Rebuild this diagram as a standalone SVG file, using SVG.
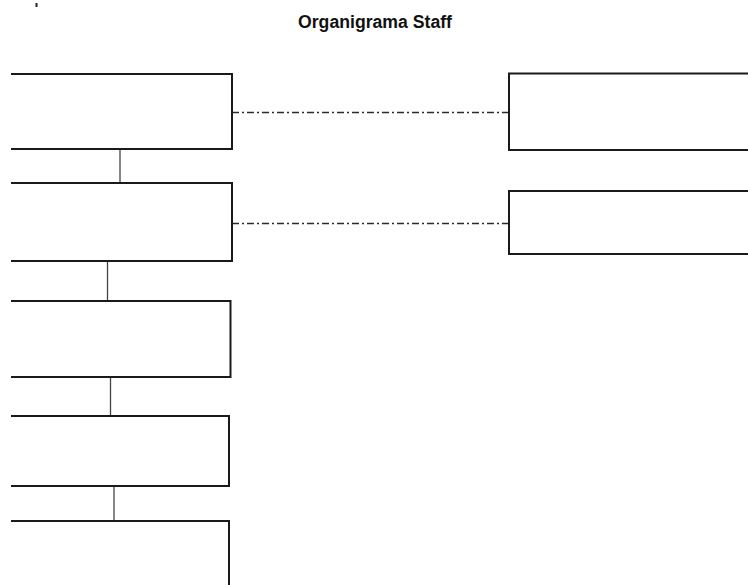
<svg xmlns="http://www.w3.org/2000/svg" width="748" height="585" viewBox="0 0 748 585">
  <style>
    .box { fill: #ffffff; stroke: #1a1a1a; stroke-width: 2; }
    .link { fill: none; stroke: #444444; stroke-width: 1.3; }
    .staff { fill: none; stroke: #2a2a2a; stroke-width: 1.7; stroke-dasharray: 7 3 2 3; }
    .title { font-family: "Liberation Sans", Arial, sans-serif; font-weight: bold; font-size: 18px; fill: #111111; }
  </style>
  <rect width="748" height="585" fill="#ffffff"/>

  <!-- small mark at top left -->
  <line x1="36.5" y1="3" x2="36.5" y2="7" stroke="#222222" stroke-width="2"/>

  <text class="title" x="375" y="28" text-anchor="middle" textLength="154" lengthAdjust="spacingAndGlyphs">Organigrama Staff</text>

  <!-- connectors -->
  <g id="connectors">
    <line class="link" x1="120" y1="149" x2="120" y2="183"/>
    <line class="link" x1="107.5" y1="261" x2="107.5" y2="301"/>
    <line class="link" x1="110.5" y1="377" x2="110.5" y2="416"/>
    <line class="link" x1="114" y1="486" x2="114" y2="521"/>
    <line class="staff" x1="232" y1="112.5" x2="509" y2="112.5"/>
    <line class="staff" x1="232" y1="223.5" x2="509" y2="223.5"/>
  </g>

  <!-- line chain, left edge runs off the page -->
  <g id="node-1"><path class="box" d="M11 74 H232 V149 H11"/></g>
  <g id="node-2"><path class="box" d="M11 183 H232 V261 H11"/></g>
  <g id="node-3"><path class="box" d="M11 301 H230.5 V377 H11"/></g>
  <g id="node-4"><path class="box" d="M11 416 H229 V486 H11"/></g>
  <g id="node-5"><path class="box" d="M11 521 H229 V590"/></g>

  <!-- staff units, right edge runs off the page -->
  <g id="staff-1"><path class="box" d="M750 73.5 H509 V150 H750"/></g>
  <g id="staff-2"><path class="box" d="M750 191 H509 V254 H750"/></g>
</svg>
